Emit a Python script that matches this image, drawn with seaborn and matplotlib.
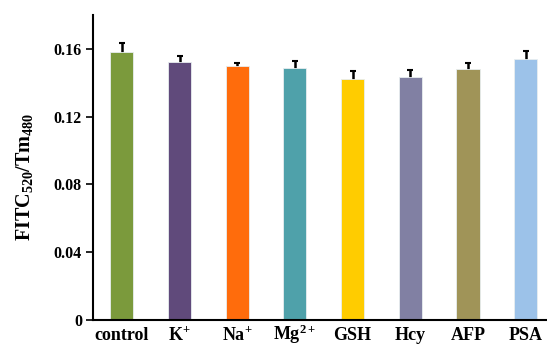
import numpy as np
import seaborn as sns
import matplotlib.pyplot as plt

# values
groups = ['control', r'K$^{\mathbf{+}}$', r'Na$^{\mathbf{+}}$', r'Mg$^{\mathbf{2+}}$',
          'GSH', 'Hcy', 'AFP', 'PSA']
ratio = [0.158, 0.152, 0.150, 0.1487, 0.142, 0.1434, 0.148, 0.154]
err = [0.0055, 0.0038, 0.0014, 0.0040, 0.0047, 0.0043, 0.0036, 0.0050]
colors = ['#7b9a3c', '#604a7b', '#ff6c0c', '#4fa1aa', '#ffcc00', '#8180a3',
          '#a09458', '#9cc2e9']

sns.set_theme(style='white')
plt.rcParams['font.family'] = ['Liberation Serif', 'DejaVu Serif']
plt.rcParams['font.weight'] = 'bold'
plt.rcParams['mathtext.fontset'] = 'custom'
plt.rcParams['mathtext.rm'] = 'Liberation Serif:bold'
plt.rcParams['mathtext.bf'] = 'Liberation Serif:bold'
plt.rcParams['mathtext.it'] = 'Liberation Serif:bold'

fig = plt.figure(figsize=(5.47, 3.45), dpi=100)
ax = fig.add_axes([0.170, 0.0725, 0.83, 0.884])

sns.barplot(x=groups, y=ratio, hue=groups, palette=colors, legend=False,
            width=0.4, errorbar=None, saturation=1, ax=ax,
            edgecolor='#e8eef0', linewidth=0.6, zorder=2)
ax.errorbar(np.arange(len(groups)), ratio, yerr=err,
            fmt='none', ecolor='black', elinewidth=1.8, capsize=2.2, capthick=1.5,
            zorder=1)

ax.set_xlim(-0.5, 7.37)
ax.set_ylim(0, 0.18)
ax.set_yticks([0, 0.04, 0.08, 0.12, 0.16])
ax.set_yticklabels(['0', '0.04', '0.08', '0.12', '0.16'])
for s in ['top', 'right']:
    ax.spines[s].set_visible(False)
for s in ['left', 'bottom']:
    ax.spines[s].set_color('black')
    ax.spines[s].set_linewidth(1.5)
    ax.spines[s].set_zorder(3)
ax.tick_params(axis='y', direction='out', length=5, width=1.2, colors='black',
               labelsize=11.5, pad=3, left=True)
ax.tick_params(axis='x', length=0, labelsize=13, pad=14.5, colors='black')
for lab in ax.get_xticklabels():
    lab.set_fontweight('bold')
    lab.set_verticalalignment('baseline')
for lab in ax.get_yticklabels():
    lab.set_fontweight('bold')

ax.set_ylabel(r'FITC$_{\mathbf{520}}$/Tm$_{\mathbf{480}}$', fontsize=14.5,
              fontweight='bold', color='black')
ax.yaxis.set_label_coords(-0.128, 0.47)
ax.set_xlabel('')

fig.savefig('out.png', dpi=100)
